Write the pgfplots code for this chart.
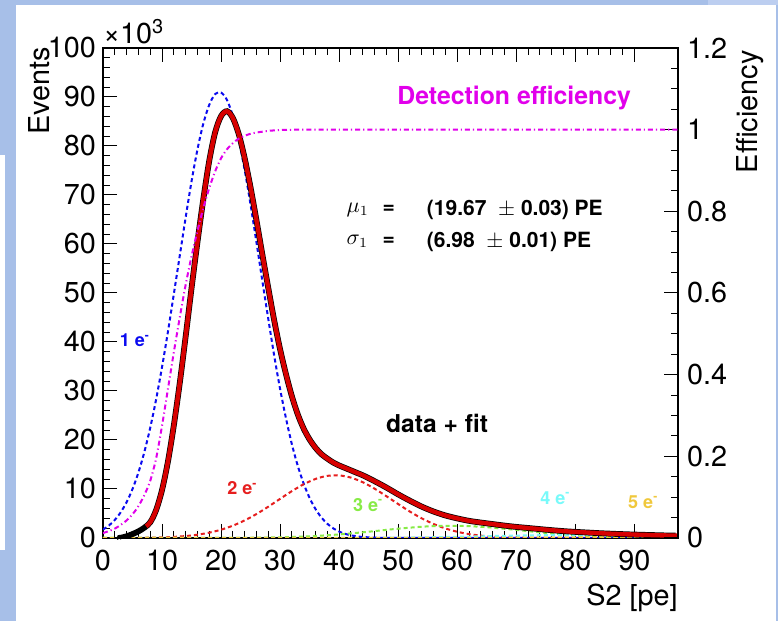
\documentclass[border=0pt]{standalone}
\usepackage{fontspec}
\setmainfont{TeX Gyre Heros}
\usepackage{pgfplots}
\pgfplotsset{compat=1.18}
\definecolor{bgblue}{RGB}{167,191,232}
\definecolor{bgtop}{RGB}{188,206,240}
\definecolor{rootblue}{RGB}{10,10,240}
\definecolor{rootmag}{RGB}{225,0,235}
\definecolor{rootred}{RGB}{215,0,0}
\definecolor{dashred}{RGB}{230,30,30}
\definecolor{rootgreen}{RGB}{135,235,70}
\definecolor{rootcyan}{RGB}{120,250,250}
\definecolor{rootyellow}{RGB}{240,200,60}
\newcommand{\ticklabfont}{\fontsize{14.4}{16}\selectfont}
\begin{document}
\begin{tikzpicture}
\useasboundingbox (0pt,0pt) rectangle (389pt,310.5pt);
\fill[bgblue] (0pt,0pt) rectangle (389pt,310.5pt);
\fill[white] (8pt,0pt) rectangle (388pt,308pt);
\fill[white] (0pt,35.5pt) rectangle (2.5pt,233pt);
\fill[bgtop] (354pt,308pt) rectangle (389pt,310.5pt);
\begin{axis}[
  at={(51.5pt,41.5pt)}, anchor=south west,
  scale only axis, width=287.5pt, height=245pt,
  xmin=0, xmax=97.4, ymin=0, ymax=100,
  clip mode=individual,
  xtick={0,10,...,90}, ytick={0,10,...,100},
  minor x tick num=4, minor y tick num=4,
  tick align=outside, xtick pos=both, ytick pos=left,
  major tick length=-7pt, minor tick length=-3.5pt,
  every tick/.style={black, line width=0.5pt},
  axis line style={black, line width=0.6pt},
  tick label style={font=\ticklabfont},
  xticklabel style={inner ysep=12.8pt},
  yticklabel style={inner xsep=10.3pt},
  /pgf/number format/assume math mode=true,
]
% 1 e- component
\addplot[rootblue, line width=1pt, dash pattern=on 2pt off 1.5pt, smooth] coordinates {
(0,1.72)(1,2.54)(2,3.69)(3,5.25)(4,7.32)(5,10.0)(6,13.37)(7,17.53)(8,22.5)(9,28.3)
(10,34.9)(11,42.1)(12,49.8)(13,57.6)(14,65.4)(15,72.8)(16,79.3)(17,84.6)(18,88.4)(19,90.6)
(20,90.9)(21,89.4)(22,86.1)(23,81.2)(24,75.1)(25,68.0)(26,60.3)(27,52.4)(28,44.7)(29,37.2)
(30,30.4)(31,24.4)(32,19.1)(33,14.7)(34,11.07)(35,8.16)(36,5.9)(37,4.18)(38,2.9)(39,1.97)
(40,1.31)(41,0.85)(42,0.545)(43,0.34)(44,0.21)(46,0.074)(48,0.024)(50,0.007)(55,0)(97.4,0)};
% 2 e- component
\addplot[dashred, line width=1pt, dash pattern=on 2pt off 1.5pt, smooth] coordinates {
(0,0)(5,0.005)(10,0.12)(12,0.225)(14,0.398)(16,0.673)(18,1.09)(20,1.69)(22,2.52)(24,3.59)
(26,4.89)(28,6.39)(30,7.99)(32,9.57)(34,10.97)(36,12.05)(38,12.68)(40,12.77)(42,12.32)(44,11.38)
(46,10.07)(48,8.53)(50,6.93)(52,5.38)(54,4.0)(56,2.86)(58,1.95)(60,1.27)(62,0.80)(64,0.48)
(66,0.275)(68,0.151)(70,0.079)(72,0.04)(76,0.008)(80,0)(97.4,0)};
% 3 e- component
\addplot[rootgreen, line width=1pt, dash pattern=on 2pt off 1.5pt, smooth] coordinates {
(0,0)(10,0)(20,0.014)(25,0.048)(30,0.14)(35,0.35)(40,0.73)(45,1.28)(50,1.9)(55,2.37)
(60,2.49)(65,2.21)(70,1.65)(75,1.04)(80,0.55)(85,0.25)(90,0.093)(95,0.03)(97.4,0.02)};
% 4 e- component
\addplot[rootcyan, line width=1pt, dash pattern=on 2pt off 1.5pt, smooth] coordinates {
(0,0)(30,0.001)(40,0.013)(45,0.033)(50,0.072)(55,0.142)(60,0.245)(65,0.371)(70,0.494)
(75,0.579)(80,0.597)(85,0.542)(90,0.432)(95,0.303)(97.4,0.245)};
% 5 e- component
\addplot[rootyellow, line width=1pt, dash pattern=on 2pt off 1.5pt, smooth] coordinates {
(0,0)(50,0.002)(60,0.01)(65,0.02)(70,0.038)(75,0.065)(80,0.1)(85,0.139)(90,0.173)(95,0.195)(97.4,0.2)};
% data
\addplot[black, line width=2.9pt, mark=*, mark size=0.7pt, mark options={line width=0.3pt}, smooth] coordinates {
(2.5,0)(3,0.05)(4,0.35)(5,0.8)(6,1.35)(7,2.1)(8,3.2)(9,5.7)(10,9.8)(11,15.6)(12,23.0)
(13,31.6)(14,41.1)(15,51.0)(16,60.4)(17,69.2)(18,77.0)(19,82.8)(20,86.1)(21,87.1)(22,85.7)
(23,82.4)(24,77.5)(25,71.5)(26,64.8)(27,57.8)(28,51.0)(29,44.4)(30,38.5)(31,33.4)(32,28.9)
(33,25.2)(34,22.3)(35,20.1)(36,18.4)(37,17.1)(38,16.2)(39,15.4)(40,14.8)(41,14.3)(42,13.8)
(43,13.3)(44,12.8)(46,11.6)(48,10.3)(50,8.9)(52,7.6)(54,6.4)(56,5.4)(58,4.6)(60,4.0)
(62,3.5)(64,3.15)(66,2.84)(68,2.53)(70,2.26)(72,2.04)(75,1.70)(78,1.40)(80,1.25)(85,0.93)
(90,0.70)(95,0.53)(97,0.48)};
% fit
\addplot[rootred, line width=2.2pt, smooth] coordinates {
(7.3,2.4)(8,3.2)(9,5.7)(10,9.8)(11,15.6)(12,23.0)
(13,31.6)(14,41.1)(15,51.0)(16,60.4)(17,69.2)(18,77.0)(19,82.8)(20,86.1)(21,87.1)(22,85.7)
(23,82.4)(24,77.5)(25,71.5)(26,64.8)(27,57.8)(28,51.0)(29,44.4)(30,38.5)(31,33.4)(32,28.9)
(33,25.2)(34,22.3)(35,20.1)(36,18.4)(37,17.1)(38,16.2)(39,15.4)(40,14.8)(41,14.3)(42,13.8)
(43,13.3)(44,12.8)(46,11.6)(48,10.3)(50,8.9)(52,7.6)(54,6.4)(56,5.4)(58,4.6)(60,4.0)
(62,3.5)(64,3.15)(66,2.84)(68,2.53)(70,2.26)(72,2.04)(75,1.70)(78,1.40)(80,1.25)(85,0.93)
(90,0.70)(95,0.53)(97.4,0.47)};
% texts
\node[anchor=west, text=rootmag, font=\fontsize{12.4}{14}\selectfont\bfseries, inner sep=0] at (axis cs:49.8,89.9) {Detection efficiency};
\node[anchor=west, font=\fontsize{10.5}{12}\selectfont\bfseries, inner sep=0] at (axis cs:41.2,67.0) {$\mu_{1}$};
\node[anchor=west, font=\fontsize{10.5}{12}\selectfont\bfseries, inner sep=0] at (axis cs:47.3,67.0) {=};
\node[anchor=west, font=\fontsize{10.5}{12}\selectfont\bfseries, inner sep=0] at (axis cs:54.8,67.0) {(19.67 \ $\pm$ 0.03) PE};
\node[anchor=west, font=\fontsize{10.5}{12}\selectfont\bfseries, inner sep=0] at (axis cs:41.2,60.5) {$\sigma_{1}$};
\node[anchor=west, font=\fontsize{10.5}{12}\selectfont\bfseries, inner sep=0] at (axis cs:47.3,60.5) {=};
\node[anchor=west, font=\fontsize{10.5}{12}\selectfont\bfseries, inner sep=0] at (axis cs:54.8,60.5) {(6.98 \ $\pm$ 0.01) PE};
\node[anchor=west, font=\fontsize{12.3}{14}\selectfont\bfseries, inner sep=0] at (axis cs:47.9,23.3) {data + fit};
\node[anchor=west, text=rootblue, font=\fontsize{9}{10}\selectfont\bfseries, inner sep=0] at (axis cs:2.8,40.3) {1 e\textsuperscript{-}};
\node[anchor=west, text=dashred, font=\fontsize{9}{10}\selectfont\bfseries, inner sep=0] at (axis cs:21.0,10.1) {2 e\textsuperscript{-}};
\node[anchor=west, text=rootgreen, font=\fontsize{9}{10}\selectfont\bfseries, inner sep=0] at (axis cs:42.3,6.8) {3 e\textsuperscript{-}};
\node[anchor=west, text=rootcyan, font=\fontsize{9}{10}\selectfont\bfseries, inner sep=0] at (axis cs:74.0,8.2) {4 e\textsuperscript{-}};
\node[anchor=west, text=rootyellow, font=\fontsize{9}{10}\selectfont\bfseries, inner sep=0] at (axis cs:88.9,7.4) {5 e\textsuperscript{-}};
% axis titles
\node[anchor=base west, font=\ticklabfont, inner sep=0] at ([yshift=2pt]rel axis cs:0,1) {×10\textsuperscript{3}};
\node[rotate=90, anchor=east, font=\ticklabfont, inner sep=0] at ([xshift=-32pt,yshift=0.5pt]rel axis cs:0,1) {Events};
\node[anchor=east, font=\ticklabfont, inner sep=0] at ([yshift=-30pt]rel axis cs:1,0) {S2 [pe]};
\node[rotate=90, anchor=east, font=\ticklabfont, inner sep=0] at ([xshift=36pt,yshift=-1pt]rel axis cs:1,1) {Efficiency};
\end{axis}
\begin{axis}[
  at={(51.5pt,41.5pt)}, anchor=south west,
  scale only axis, width=287.5pt, height=245pt,
  xmin=0, xmax=97.4, ymin=0, ymax=1.2,
  axis x line=none, axis y line*=right,
  ytick={0,0.2,0.4,0.6,0.8,1,1.2}, minor y tick num=3,
  tick align=outside,
  major tick length=-7pt, minor tick length=-3.5pt,
  every tick/.style={black, line width=0.5pt},
  axis line style={black, line width=0.6pt},
  tick label style={font=\ticklabfont},
  yticklabel style={inner xsep=11.3pt},
  /pgf/number format/assume math mode=true,
]
\addplot[rootmag, line width=1pt, dash pattern=on 2.5pt off 1.5pt on 0.6pt off 1.5pt, smooth] coordinates {
(0,0.012)(1,0.017)(2,0.023)(3,0.032)(4,0.043)(5,0.058)(6,0.078)(7,0.105)(8,0.14)(9,0.195)
(10,0.275)(11,0.365)(12,0.455)(13,0.54)(14,0.62)(15,0.69)(16,0.752)(17,0.808)(18,0.857)(19,0.898)
(20,0.93)(21,0.952)(22,0.967)(23,0.978)(24,0.985)(25,0.99)(26,0.993)(27,0.995)(28,0.997)(30,0.999)
(34,1.0)(50,1.0)(70,1.0)(97.4,1.0)};
\end{axis}
\end{tikzpicture}
\end{document}
